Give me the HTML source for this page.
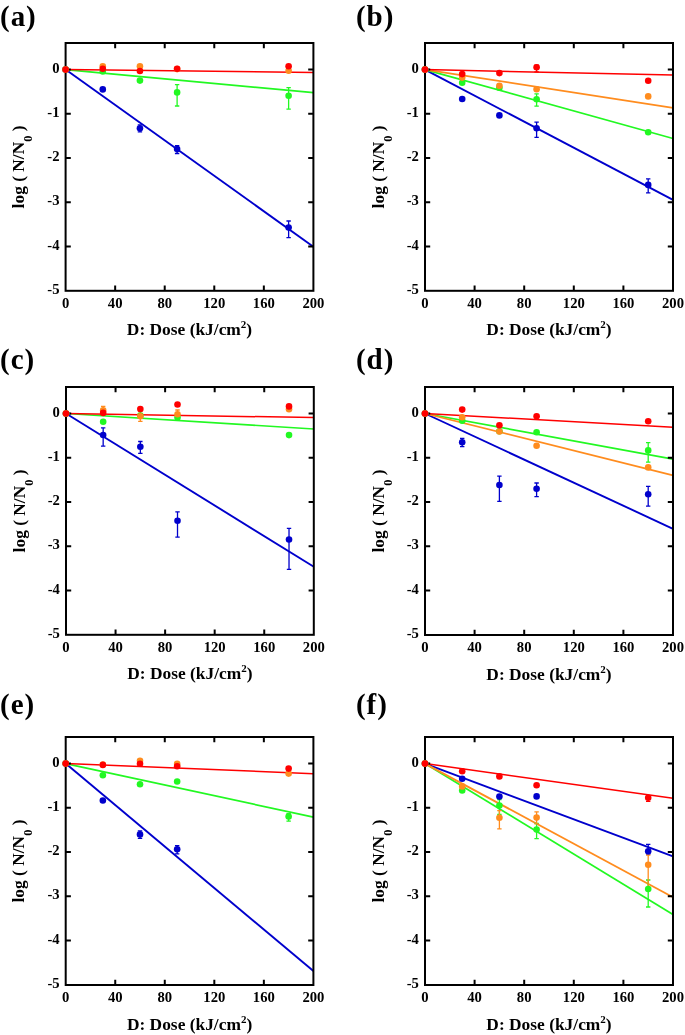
<!DOCTYPE html><html><head><meta charset="utf-8"><style>html,body{margin:0;padding:0;background:#fff;}svg{display:block;will-change:transform;}text{font-family:"Liberation Serif",serif;font-weight:bold;fill:#000;}</style></head><body>
<svg width="685" height="1035" viewBox="0 0 685 1035">
<rect width="685" height="1035" fill="#fff"/>
<g><line x1="65.6" y1="69.6" x2="313.4" y2="246.7" stroke="#0000cc" stroke-width="1.9"/><line x1="65.6" y1="69.6" x2="313.4" y2="92.6" stroke="#22f822" stroke-width="1.7"/><line x1="65.6" y1="69.6" x2="313.4" y2="72.4" stroke="#ff0000" stroke-width="1.5"/><rect x="65.6" y="43" width="247.8" height="247.8" fill="none" stroke="#000" stroke-width="2.0"/><path d="M115.16 290.8v-5.2M115.16 43v5.2M164.72 290.8v-5.2M164.72 43v5.2M214.28 290.8v-5.2M214.28 43v5.2M263.84 290.8v-5.2M263.84 43v5.2M65.6 246.6h5.2M313.4 246.6h-5.2M65.6 202.35h5.2M313.4 202.35h-5.2M65.6 158.1h5.2M313.4 158.1h-5.2M65.6 113.85h5.2M313.4 113.85h-5.2M65.6 69.6h5.2M313.4 69.6h-5.2" stroke="#000" stroke-width="2.0" fill="none"/><path d="M139.94 124.8V131.8M137.74 124.8H142.14M137.74 131.8H142.14" stroke="#0000cc" stroke-width="1.3" fill="none"/><path d="M177.11 145.6V153.5M174.91 145.6H179.31M174.91 153.5H179.31" stroke="#0000cc" stroke-width="1.3" fill="none"/><path d="M288.62 221V237.6M286.42 221H290.82M286.42 237.6H290.82" stroke="#0000cc" stroke-width="1.3" fill="none"/><path d="M177.11 84.6V106M174.91 84.6H179.31M174.91 106H179.31" stroke="#22f822" stroke-width="1.3" fill="none"/><path d="M288.62 87.6V109.2M286.42 87.6H290.82M286.42 109.2H290.82" stroke="#22f822" stroke-width="1.3" fill="none"/><circle cx="65.6" cy="69.6" r="3.3" fill="#0000cc"/><circle cx="102.77" cy="89.4" r="3.3" fill="#0000cc"/><circle cx="139.94" cy="128.3" r="3.3" fill="#0000cc"/><circle cx="177.11" cy="149.1" r="3.3" fill="#0000cc"/><circle cx="288.62" cy="227.6" r="3.3" fill="#0000cc"/><circle cx="65.6" cy="69.6" r="3.3" fill="#22f822"/><circle cx="102.77" cy="71.4" r="3.3" fill="#22f822"/><circle cx="139.94" cy="80.6" r="3.3" fill="#22f822"/><circle cx="177.11" cy="92.4" r="3.3" fill="#22f822"/><circle cx="288.62" cy="95.7" r="3.3" fill="#22f822"/><circle cx="65.6" cy="69.6" r="3.3" fill="#ff8c1e"/><circle cx="102.77" cy="66.2" r="3.3" fill="#ff8c1e"/><circle cx="139.94" cy="66.2" r="3.3" fill="#ff8c1e"/><circle cx="177.11" cy="69.1" r="3.3" fill="#ff8c1e"/><circle cx="288.62" cy="70.7" r="3.3" fill="#ff8c1e"/><circle cx="65.6" cy="69.6" r="3.3" fill="#ff0000"/><circle cx="102.77" cy="68.8" r="3.3" fill="#ff0000"/><circle cx="139.94" cy="71" r="3.3" fill="#ff0000"/><circle cx="177.11" cy="68.8" r="3.3" fill="#ff0000"/><circle cx="288.62" cy="66.3" r="3.3" fill="#ff0000"/><text transform="translate(65.6 308) scale(0.94 1)" font-size="15.6" text-anchor="middle">0</text><text transform="translate(115.16 308) scale(0.94 1)" font-size="15.6" text-anchor="middle">40</text><text transform="translate(164.72 308) scale(0.94 1)" font-size="15.6" text-anchor="middle">80</text><text transform="translate(214.28 308) scale(0.94 1)" font-size="15.6" text-anchor="middle">120</text><text transform="translate(263.84 308) scale(0.94 1)" font-size="15.6" text-anchor="middle">160</text><text transform="translate(313.4 308) scale(0.94 1)" font-size="15.6" text-anchor="middle">200</text><text transform="translate(59.5 293.85) scale(0.94 1)" font-size="15.6" text-anchor="end">-5</text><text transform="translate(59.5 249.6) scale(0.94 1)" font-size="15.6" text-anchor="end">-4</text><text transform="translate(59.5 205.35) scale(0.94 1)" font-size="15.6" text-anchor="end">-3</text><text transform="translate(59.5 161.1) scale(0.94 1)" font-size="15.6" text-anchor="end">-2</text><text transform="translate(59.5 116.85) scale(0.94 1)" font-size="15.6" text-anchor="end">-1</text><text transform="translate(59.5 72.6) scale(0.94 1)" font-size="15.6" text-anchor="end">0</text><text x="189.5" y="335.4" font-size="17.4" text-anchor="middle">D: Dose (kJ/cm<tspan font-size="11" dy="-7">2</tspan><tspan dy="7">)</tspan></text><text transform="translate(24.1 166.9) rotate(-90)" font-size="17.4" text-anchor="middle">log ( N/N<tspan font-size="12.4" dy="8.2">0</tspan><tspan dy="-8.2"> )</tspan></text><text x="0.12" y="26.1" font-size="29" letter-spacing="0.9">(a)</text></g>
<g><line x1="425" y1="69.6" x2="673" y2="199.8" stroke="#0000cc" stroke-width="1.9"/><line x1="425" y1="69.6" x2="673" y2="138.5" stroke="#22f822" stroke-width="1.7"/><line x1="425" y1="69.6" x2="673" y2="107.8" stroke="#ff8c1e" stroke-width="1.8"/><line x1="425" y1="69.6" x2="673" y2="75.05" stroke="#ff0000" stroke-width="1.5"/><rect x="425" y="43" width="248" height="247.8" fill="none" stroke="#000" stroke-width="2.0"/><path d="M474.6 290.8v-5.2M474.6 43v5.2M524.2 290.8v-5.2M524.2 43v5.2M573.8 290.8v-5.2M573.8 43v5.2M623.4 290.8v-5.2M623.4 43v5.2M425 246.6h5.2M673 246.6h-5.2M425 202.35h5.2M673 202.35h-5.2M425 158.1h5.2M673 158.1h-5.2M425 113.85h5.2M673 113.85h-5.2M425 69.6h5.2M673 69.6h-5.2" stroke="#000" stroke-width="2.0" fill="none"/><path d="M536.6 122.1V137.3M534.4 122.1H538.8M534.4 137.3H538.8" stroke="#0000cc" stroke-width="1.3" fill="none"/><path d="M648.2 178.8V192.8M646 178.8H650.4M646 192.8H650.4" stroke="#0000cc" stroke-width="1.3" fill="none"/><path d="M536.6 93.9V106.2M534.4 93.9H538.8M534.4 106.2H538.8" stroke="#22f822" stroke-width="1.3" fill="none"/><path d="M536.6 65.1V71.8M534.4 65.1H538.8M534.4 71.8H538.8" stroke="#ff0000" stroke-width="1.3" fill="none"/><circle cx="425" cy="69.6" r="3.3" fill="#0000cc"/><circle cx="462.2" cy="99" r="3.3" fill="#0000cc"/><circle cx="499.4" cy="115.4" r="3.3" fill="#0000cc"/><circle cx="536.6" cy="128.3" r="3.3" fill="#0000cc"/><circle cx="648.2" cy="184.9" r="3.3" fill="#0000cc"/><circle cx="425" cy="69.6" r="3.3" fill="#22f822"/><circle cx="462.2" cy="82.7" r="3.3" fill="#22f822"/><circle cx="499.4" cy="87.8" r="3.3" fill="#22f822"/><circle cx="536.6" cy="99.3" r="3.3" fill="#22f822"/><circle cx="648.2" cy="132.3" r="3.3" fill="#22f822"/><circle cx="425" cy="69.6" r="3.3" fill="#ff8c1e"/><circle cx="462.2" cy="77.6" r="3.3" fill="#ff8c1e"/><circle cx="499.4" cy="85.8" r="3.3" fill="#ff8c1e"/><circle cx="536.6" cy="89.2" r="3.3" fill="#ff8c1e"/><circle cx="648.2" cy="96.4" r="3.3" fill="#ff8c1e"/><circle cx="425" cy="69.6" r="3.3" fill="#ff0000"/><circle cx="462.2" cy="74.1" r="3.3" fill="#ff0000"/><circle cx="499.4" cy="73.1" r="3.3" fill="#ff0000"/><circle cx="536.6" cy="67.3" r="3.3" fill="#ff0000"/><circle cx="648.2" cy="80.7" r="3.3" fill="#ff0000"/><text transform="translate(425 308) scale(0.94 1)" font-size="15.6" text-anchor="middle">0</text><text transform="translate(474.6 308) scale(0.94 1)" font-size="15.6" text-anchor="middle">40</text><text transform="translate(524.2 308) scale(0.94 1)" font-size="15.6" text-anchor="middle">80</text><text transform="translate(573.8 308) scale(0.94 1)" font-size="15.6" text-anchor="middle">120</text><text transform="translate(623.4 308) scale(0.94 1)" font-size="15.6" text-anchor="middle">160</text><text transform="translate(673 308) scale(0.94 1)" font-size="15.6" text-anchor="middle">200</text><text transform="translate(418.9 293.85) scale(0.94 1)" font-size="15.6" text-anchor="end">-5</text><text transform="translate(418.9 249.6) scale(0.94 1)" font-size="15.6" text-anchor="end">-4</text><text transform="translate(418.9 205.35) scale(0.94 1)" font-size="15.6" text-anchor="end">-3</text><text transform="translate(418.9 161.1) scale(0.94 1)" font-size="15.6" text-anchor="end">-2</text><text transform="translate(418.9 116.85) scale(0.94 1)" font-size="15.6" text-anchor="end">-1</text><text transform="translate(418.9 72.6) scale(0.94 1)" font-size="15.6" text-anchor="end">0</text><text x="549" y="335.4" font-size="17.4" text-anchor="middle">D: Dose (kJ/cm<tspan font-size="11" dy="-7">2</tspan><tspan dy="7">)</tspan></text><text transform="translate(383.5 166.9) rotate(-90)" font-size="17.4" text-anchor="middle">log ( N/N<tspan font-size="12.4" dy="8.2">0</tspan><tspan dy="-8.2"> )</tspan></text><text x="356.07" y="26.1" font-size="29" letter-spacing="0.9">(b)</text></g>
<g><line x1="66" y1="413.5" x2="313.8" y2="566.8" stroke="#0000cc" stroke-width="1.9"/><line x1="66" y1="413.5" x2="313.8" y2="429" stroke="#22f822" stroke-width="1.7"/><line x1="66" y1="413.5" x2="313.8" y2="417.6" stroke="#ff0000" stroke-width="1.5"/><rect x="66" y="387" width="247.8" height="247.8" fill="none" stroke="#000" stroke-width="2.0"/><path d="M115.56 634.8v-5.2M115.56 387v5.2M165.12 634.8v-5.2M165.12 387v5.2M214.68 634.8v-5.2M214.68 387v5.2M264.24 634.8v-5.2M264.24 387v5.2M66 590.5h5.2M313.8 590.5h-5.2M66 546.25h5.2M313.8 546.25h-5.2M66 502h5.2M313.8 502h-5.2M66 457.75h5.2M313.8 457.75h-5.2M66 413.5h5.2M313.8 413.5h-5.2" stroke="#000" stroke-width="2.0" fill="none"/><path d="M103.17 427.8V446.2M100.97 427.8H105.37M100.97 446.2H105.37" stroke="#0000cc" stroke-width="1.3" fill="none"/><path d="M140.34 441.5V453.4M138.14 441.5H142.54M138.14 453.4H142.54" stroke="#0000cc" stroke-width="1.3" fill="none"/><path d="M177.51 511.9V537.2M175.31 511.9H179.71M175.31 537.2H179.71" stroke="#0000cc" stroke-width="1.3" fill="none"/><path d="M289.02 528.3V569.4M286.82 528.3H291.22M286.82 569.4H291.22" stroke="#0000cc" stroke-width="1.3" fill="none"/><path d="M103.17 406.3V414M100.97 406.3H105.37M100.97 414H105.37" stroke="#ff8c1e" stroke-width="1.3" fill="none"/><path d="M140.34 411.5V421.3M138.14 411.5H142.54M138.14 421.3H142.54" stroke="#ff8c1e" stroke-width="1.3" fill="none"/><path d="M177.51 410V416.5M175.31 410H179.71M175.31 416.5H179.71" stroke="#ff8c1e" stroke-width="1.3" fill="none"/><circle cx="66" cy="413.5" r="3.3" fill="#0000cc"/><circle cx="103.17" cy="435" r="3.3" fill="#0000cc"/><circle cx="140.34" cy="446.8" r="3.3" fill="#0000cc"/><circle cx="177.51" cy="520.8" r="3.3" fill="#0000cc"/><circle cx="289.02" cy="539.5" r="3.3" fill="#0000cc"/><circle cx="66" cy="413.5" r="3.3" fill="#22f822"/><circle cx="103.17" cy="421.7" r="3.3" fill="#22f822"/><circle cx="140.34" cy="415.5" r="3.3" fill="#22f822"/><circle cx="177.51" cy="417.6" r="3.3" fill="#22f822"/><circle cx="289.02" cy="435.1" r="3.3" fill="#22f822"/><circle cx="66" cy="413.5" r="3.3" fill="#ff8c1e"/><circle cx="103.17" cy="410.4" r="3.3" fill="#ff8c1e"/><circle cx="140.34" cy="416.2" r="3.3" fill="#ff8c1e"/><circle cx="177.51" cy="414.3" r="3.3" fill="#ff8c1e"/><circle cx="289.02" cy="409.2" r="3.3" fill="#ff8c1e"/><circle cx="66" cy="413.5" r="3.3" fill="#ff0000"/><circle cx="103.17" cy="412.9" r="3.3" fill="#ff0000"/><circle cx="140.34" cy="409" r="3.3" fill="#ff0000"/><circle cx="177.51" cy="404.5" r="3.3" fill="#ff0000"/><circle cx="289.02" cy="406.4" r="3.3" fill="#ff0000"/><text transform="translate(66 652) scale(0.94 1)" font-size="15.6" text-anchor="middle">0</text><text transform="translate(115.56 652) scale(0.94 1)" font-size="15.6" text-anchor="middle">40</text><text transform="translate(165.12 652) scale(0.94 1)" font-size="15.6" text-anchor="middle">80</text><text transform="translate(214.68 652) scale(0.94 1)" font-size="15.6" text-anchor="middle">120</text><text transform="translate(264.24 652) scale(0.94 1)" font-size="15.6" text-anchor="middle">160</text><text transform="translate(313.8 652) scale(0.94 1)" font-size="15.6" text-anchor="middle">200</text><text transform="translate(59.9 637.75) scale(0.94 1)" font-size="15.6" text-anchor="end">-5</text><text transform="translate(59.9 593.5) scale(0.94 1)" font-size="15.6" text-anchor="end">-4</text><text transform="translate(59.9 549.25) scale(0.94 1)" font-size="15.6" text-anchor="end">-3</text><text transform="translate(59.9 505) scale(0.94 1)" font-size="15.6" text-anchor="end">-2</text><text transform="translate(59.9 460.75) scale(0.94 1)" font-size="15.6" text-anchor="end">-1</text><text transform="translate(59.9 416.5) scale(0.94 1)" font-size="15.6" text-anchor="end">0</text><text x="189.9" y="679.4" font-size="17.4" text-anchor="middle">D: Dose (kJ/cm<tspan font-size="11" dy="-7">2</tspan><tspan dy="7">)</tspan></text><text transform="translate(24.5 510.9) rotate(-90)" font-size="17.4" text-anchor="middle">log ( N/N<tspan font-size="12.4" dy="8.2">0</tspan><tspan dy="-8.2"> )</tspan></text><text x="0.12" y="368.6" font-size="29" letter-spacing="0.9">(c)</text></g>
<g><line x1="425" y1="413.5" x2="673" y2="528.8" stroke="#0000cc" stroke-width="1.9"/><line x1="425" y1="413.5" x2="673" y2="459.2" stroke="#22f822" stroke-width="1.7"/><line x1="425" y1="413.5" x2="673" y2="475.3" stroke="#ff8c1e" stroke-width="1.8"/><line x1="425" y1="413.5" x2="673" y2="427.3" stroke="#ff0000" stroke-width="1.5"/><rect x="425" y="387" width="248" height="248" fill="none" stroke="#000" stroke-width="2.0"/><path d="M474.6 635v-5.2M474.6 387v5.2M524.2 635v-5.2M524.2 387v5.2M573.8 635v-5.2M573.8 387v5.2M623.4 635v-5.2M623.4 387v5.2M425 590.5h5.2M673 590.5h-5.2M425 546.25h5.2M673 546.25h-5.2M425 502h5.2M673 502h-5.2M425 457.75h5.2M673 457.75h-5.2M425 413.5h5.2M673 413.5h-5.2" stroke="#000" stroke-width="2.0" fill="none"/><path d="M462.2 438.4V446.6M460 438.4H464.4M460 446.6H464.4" stroke="#0000cc" stroke-width="1.3" fill="none"/><path d="M499.4 476.2V501.4M497.2 476.2H501.6M497.2 501.4H501.6" stroke="#0000cc" stroke-width="1.3" fill="none"/><path d="M536.6 483V496.7M534.4 483H538.8M534.4 496.7H538.8" stroke="#0000cc" stroke-width="1.3" fill="none"/><path d="M648.2 486.4V506.2M646 486.4H650.4M646 506.2H650.4" stroke="#0000cc" stroke-width="1.3" fill="none"/><path d="M648.2 442.6V462.2M646 442.6H650.4M646 462.2H650.4" stroke="#22f822" stroke-width="1.3" fill="none"/><circle cx="425" cy="413.5" r="3.3" fill="#0000cc"/><circle cx="462.2" cy="442.3" r="3.3" fill="#0000cc"/><circle cx="499.4" cy="485" r="3.3" fill="#0000cc"/><circle cx="536.6" cy="488.7" r="3.3" fill="#0000cc"/><circle cx="648.2" cy="494.2" r="3.3" fill="#0000cc"/><circle cx="425" cy="413.5" r="3.3" fill="#22f822"/><circle cx="462.2" cy="420.7" r="3.3" fill="#22f822"/><circle cx="499.4" cy="431.3" r="3.3" fill="#22f822"/><circle cx="536.6" cy="432.3" r="3.3" fill="#22f822"/><circle cx="648.2" cy="450.4" r="3.3" fill="#22f822"/><circle cx="425" cy="413.5" r="3.3" fill="#ff8c1e"/><circle cx="462.2" cy="417.2" r="3.3" fill="#ff8c1e"/><circle cx="499.4" cy="431.5" r="3.3" fill="#ff8c1e"/><circle cx="536.6" cy="445.8" r="3.3" fill="#ff8c1e"/><circle cx="648.2" cy="467.4" r="3.3" fill="#ff8c1e"/><circle cx="425" cy="413.5" r="3.3" fill="#ff0000"/><circle cx="462.2" cy="409.6" r="3.3" fill="#ff0000"/><circle cx="499.4" cy="425.2" r="3.3" fill="#ff0000"/><circle cx="536.6" cy="416.2" r="3.3" fill="#ff0000"/><circle cx="648.2" cy="421.2" r="3.3" fill="#ff0000"/><text transform="translate(425 652.2) scale(0.94 1)" font-size="15.6" text-anchor="middle">0</text><text transform="translate(474.6 652.2) scale(0.94 1)" font-size="15.6" text-anchor="middle">40</text><text transform="translate(524.2 652.2) scale(0.94 1)" font-size="15.6" text-anchor="middle">80</text><text transform="translate(573.8 652.2) scale(0.94 1)" font-size="15.6" text-anchor="middle">120</text><text transform="translate(623.4 652.2) scale(0.94 1)" font-size="15.6" text-anchor="middle">160</text><text transform="translate(673 652.2) scale(0.94 1)" font-size="15.6" text-anchor="middle">200</text><text transform="translate(418.9 637.75) scale(0.94 1)" font-size="15.6" text-anchor="end">-5</text><text transform="translate(418.9 593.5) scale(0.94 1)" font-size="15.6" text-anchor="end">-4</text><text transform="translate(418.9 549.25) scale(0.94 1)" font-size="15.6" text-anchor="end">-3</text><text transform="translate(418.9 505) scale(0.94 1)" font-size="15.6" text-anchor="end">-2</text><text transform="translate(418.9 460.75) scale(0.94 1)" font-size="15.6" text-anchor="end">-1</text><text transform="translate(418.9 416.5) scale(0.94 1)" font-size="15.6" text-anchor="end">0</text><text x="549" y="679.6" font-size="17.4" text-anchor="middle">D: Dose (kJ/cm<tspan font-size="11" dy="-7">2</tspan><tspan dy="7">)</tspan></text><text transform="translate(383.5 511) rotate(-90)" font-size="17.4" text-anchor="middle">log ( N/N<tspan font-size="12.4" dy="8.2">0</tspan><tspan dy="-8.2"> )</tspan></text><text x="356.07" y="368.6" font-size="29" letter-spacing="0.9">(d)</text></g>
<g><line x1="65.7" y1="763.6" x2="313.4" y2="971.1" stroke="#0000cc" stroke-width="1.9"/><line x1="65.7" y1="763.6" x2="313.4" y2="817.1" stroke="#22f822" stroke-width="1.7"/><line x1="65.7" y1="763.6" x2="313.4" y2="773.7" stroke="#ff0000" stroke-width="1.5"/><rect x="65.7" y="737" width="247.7" height="248" fill="none" stroke="#000" stroke-width="2.0"/><path d="M115.24 985v-5.2M115.24 737v5.2M164.78 985v-5.2M164.78 737v5.2M214.32 985v-5.2M214.32 737v5.2M263.86 985v-5.2M263.86 737v5.2M65.7 940.6h5.2M313.4 940.6h-5.2M65.7 896.35h5.2M313.4 896.35h-5.2M65.7 852.1h5.2M313.4 852.1h-5.2M65.7 807.85h5.2M313.4 807.85h-5.2M65.7 763.6h5.2M313.4 763.6h-5.2" stroke="#000" stroke-width="2.0" fill="none"/><path d="M140.01 830.9V838.3M137.81 830.9H142.21M137.81 838.3H142.21" stroke="#0000cc" stroke-width="1.3" fill="none"/><path d="M177.16 845.6V853.9M174.97 845.6H179.36M174.97 853.9H179.36" stroke="#0000cc" stroke-width="1.3" fill="none"/><path d="M288.63 813.6V821.1M286.43 813.6H290.83M286.43 821.1H290.83" stroke="#22f822" stroke-width="1.3" fill="none"/><circle cx="65.7" cy="763.6" r="3.3" fill="#0000cc"/><circle cx="102.86" cy="800.5" r="3.3" fill="#0000cc"/><circle cx="140.01" cy="834.4" r="3.3" fill="#0000cc"/><circle cx="177.16" cy="849.3" r="3.3" fill="#0000cc"/><circle cx="65.7" cy="763.6" r="3.3" fill="#22f822"/><circle cx="102.86" cy="775.2" r="3.3" fill="#22f822"/><circle cx="140.01" cy="784.3" r="3.3" fill="#22f822"/><circle cx="177.16" cy="781.5" r="3.3" fill="#22f822"/><circle cx="288.63" cy="816.6" r="3.3" fill="#22f822"/><circle cx="65.7" cy="763.6" r="3.3" fill="#ff8c1e"/><circle cx="102.86" cy="764.6" r="3.3" fill="#ff8c1e"/><circle cx="140.01" cy="760.8" r="3.3" fill="#ff8c1e"/><circle cx="177.16" cy="763.9" r="3.3" fill="#ff8c1e"/><circle cx="288.63" cy="773.6" r="3.3" fill="#ff8c1e"/><circle cx="65.7" cy="763.6" r="3.3" fill="#ff0000"/><circle cx="102.86" cy="764.9" r="3.3" fill="#ff0000"/><circle cx="140.01" cy="763.7" r="3.3" fill="#ff0000"/><circle cx="177.16" cy="766.2" r="3.3" fill="#ff0000"/><circle cx="288.63" cy="768.6" r="3.3" fill="#ff0000"/><text transform="translate(65.7 1002.2) scale(0.94 1)" font-size="15.6" text-anchor="middle">0</text><text transform="translate(115.24 1002.2) scale(0.94 1)" font-size="15.6" text-anchor="middle">40</text><text transform="translate(164.78 1002.2) scale(0.94 1)" font-size="15.6" text-anchor="middle">80</text><text transform="translate(214.32 1002.2) scale(0.94 1)" font-size="15.6" text-anchor="middle">120</text><text transform="translate(263.86 1002.2) scale(0.94 1)" font-size="15.6" text-anchor="middle">160</text><text transform="translate(313.4 1002.2) scale(0.94 1)" font-size="15.6" text-anchor="middle">200</text><text transform="translate(59.6 987.85) scale(0.94 1)" font-size="15.6" text-anchor="end">-5</text><text transform="translate(59.6 943.6) scale(0.94 1)" font-size="15.6" text-anchor="end">-4</text><text transform="translate(59.6 899.35) scale(0.94 1)" font-size="15.6" text-anchor="end">-3</text><text transform="translate(59.6 855.1) scale(0.94 1)" font-size="15.6" text-anchor="end">-2</text><text transform="translate(59.6 810.85) scale(0.94 1)" font-size="15.6" text-anchor="end">-1</text><text transform="translate(59.6 766.6) scale(0.94 1)" font-size="15.6" text-anchor="end">0</text><text x="189.55" y="1029.6" font-size="17.4" text-anchor="middle">D: Dose (kJ/cm<tspan font-size="11" dy="-7">2</tspan><tspan dy="7">)</tspan></text><text transform="translate(24.2 861) rotate(-90)" font-size="17.4" text-anchor="middle">log ( N/N<tspan font-size="12.4" dy="8.2">0</tspan><tspan dy="-8.2"> )</tspan></text><text x="0.12" y="713.5" font-size="29" letter-spacing="0.9">(e)</text></g>
<g><line x1="425" y1="763.6" x2="673" y2="856.4" stroke="#0000cc" stroke-width="1.9"/><line x1="425" y1="763.6" x2="673" y2="914.4" stroke="#22f822" stroke-width="1.7"/><line x1="425" y1="763.6" x2="673" y2="897.2" stroke="#ff8c1e" stroke-width="1.8"/><line x1="425" y1="763.6" x2="673" y2="798.3" stroke="#ff0000" stroke-width="1.5"/><rect x="425" y="737" width="248" height="248" fill="none" stroke="#000" stroke-width="2.0"/><path d="M474.6 985v-5.2M474.6 737v5.2M524.2 985v-5.2M524.2 737v5.2M573.8 985v-5.2M573.8 737v5.2M623.4 985v-5.2M623.4 737v5.2M425 940.6h5.2M673 940.6h-5.2M425 896.35h5.2M673 896.35h-5.2M425 852.1h5.2M673 852.1h-5.2M425 807.85h5.2M673 807.85h-5.2M425 763.6h5.2M673 763.6h-5.2" stroke="#000" stroke-width="2.0" fill="none"/><path d="M648.2 844.3V854.1M646 844.3H650.4M646 854.1H650.4" stroke="#0000cc" stroke-width="1.3" fill="none"/><path d="M499.4 799.6V814.5M497.2 799.6H501.6M497.2 814.5H501.6" stroke="#22f822" stroke-width="1.3" fill="none"/><path d="M536.6 823.4V838.6M534.4 823.4H538.8M534.4 838.6H538.8" stroke="#22f822" stroke-width="1.3" fill="none"/><path d="M648.2 880V907M646 880H650.4M646 907H650.4" stroke="#22f822" stroke-width="1.3" fill="none"/><path d="M499.4 810.6V828.8M497.2 810.6H501.6M497.2 828.8H501.6" stroke="#ff8c1e" stroke-width="1.3" fill="none"/><path d="M536.6 811.9V823.8M534.4 811.9H538.8M534.4 823.8H538.8" stroke="#ff8c1e" stroke-width="1.3" fill="none"/><path d="M648.2 855.2V888.1M646 855.2H650.4M646 888.1H650.4" stroke="#ff8c1e" stroke-width="1.3" fill="none"/><path d="M648.2 796.6V801.3M646 796.6H650.4M646 801.3H650.4" stroke="#ff0000" stroke-width="1.3" fill="none"/><circle cx="425" cy="763.6" r="3.3" fill="#0000cc"/><circle cx="462.2" cy="778.8" r="3.3" fill="#0000cc"/><circle cx="499.4" cy="796.6" r="3.3" fill="#0000cc"/><circle cx="536.6" cy="796.4" r="3.3" fill="#0000cc"/><circle cx="648.2" cy="851.3" r="3.3" fill="#0000cc"/><circle cx="425" cy="763.6" r="3.3" fill="#22f822"/><circle cx="462.2" cy="790.5" r="3.3" fill="#22f822"/><circle cx="499.4" cy="805.5" r="3.3" fill="#22f822"/><circle cx="536.6" cy="829.6" r="3.3" fill="#22f822"/><circle cx="648.2" cy="889" r="3.3" fill="#22f822"/><circle cx="425" cy="763.6" r="3.3" fill="#ff8c1e"/><circle cx="462.2" cy="786.4" r="3.3" fill="#ff8c1e"/><circle cx="499.4" cy="817.7" r="3.3" fill="#ff8c1e"/><circle cx="536.6" cy="817.6" r="3.3" fill="#ff8c1e"/><circle cx="648.2" cy="864.8" r="3.3" fill="#ff8c1e"/><circle cx="425" cy="763.6" r="3.3" fill="#ff0000"/><circle cx="462.2" cy="771.3" r="3.3" fill="#ff0000"/><circle cx="499.4" cy="776.4" r="3.3" fill="#ff0000"/><circle cx="536.6" cy="785.3" r="3.3" fill="#ff0000"/><circle cx="648.2" cy="797.8" r="3.3" fill="#ff0000"/><text transform="translate(425 1002.2) scale(0.94 1)" font-size="15.6" text-anchor="middle">0</text><text transform="translate(474.6 1002.2) scale(0.94 1)" font-size="15.6" text-anchor="middle">40</text><text transform="translate(524.2 1002.2) scale(0.94 1)" font-size="15.6" text-anchor="middle">80</text><text transform="translate(573.8 1002.2) scale(0.94 1)" font-size="15.6" text-anchor="middle">120</text><text transform="translate(623.4 1002.2) scale(0.94 1)" font-size="15.6" text-anchor="middle">160</text><text transform="translate(673 1002.2) scale(0.94 1)" font-size="15.6" text-anchor="middle">200</text><text transform="translate(418.9 987.85) scale(0.94 1)" font-size="15.6" text-anchor="end">-5</text><text transform="translate(418.9 943.6) scale(0.94 1)" font-size="15.6" text-anchor="end">-4</text><text transform="translate(418.9 899.35) scale(0.94 1)" font-size="15.6" text-anchor="end">-3</text><text transform="translate(418.9 855.1) scale(0.94 1)" font-size="15.6" text-anchor="end">-2</text><text transform="translate(418.9 810.85) scale(0.94 1)" font-size="15.6" text-anchor="end">-1</text><text transform="translate(418.9 766.6) scale(0.94 1)" font-size="15.6" text-anchor="end">0</text><text x="549" y="1029.6" font-size="17.4" text-anchor="middle">D: Dose (kJ/cm<tspan font-size="11" dy="-7">2</tspan><tspan dy="7">)</tspan></text><text transform="translate(383.5 861) rotate(-90)" font-size="17.4" text-anchor="middle">log ( N/N<tspan font-size="12.4" dy="8.2">0</tspan><tspan dy="-8.2"> )</tspan></text><text x="356.07" y="713.5" font-size="29" letter-spacing="0.9">(f)</text></g>
</svg></body></html>
